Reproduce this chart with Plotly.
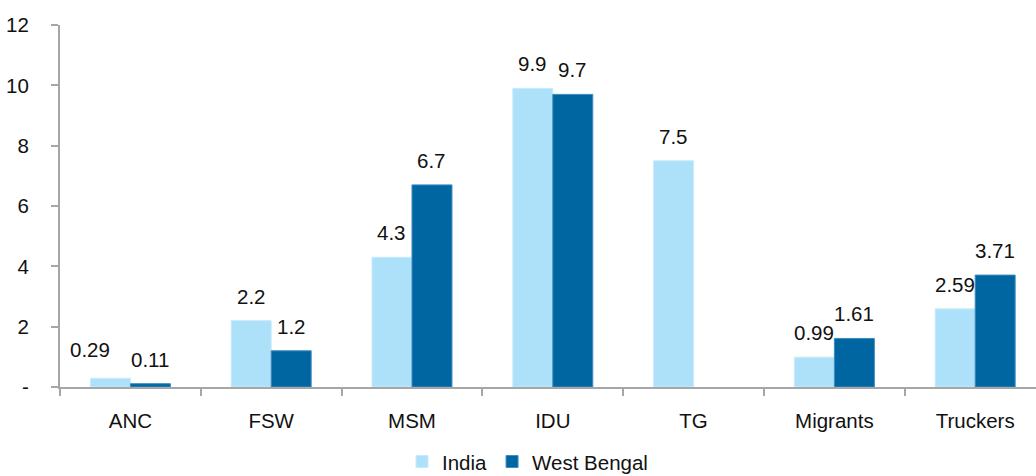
import plotly.graph_objects as go

categories = ["ANC", "FSW", "MSM", "IDU", "TG", "Migrants", "Truckers"]
india = [0.29, 2.2, 4.3, 9.9, 7.5, 0.99, 2.59]
west_bengal = [0.11, 1.2, 6.7, 9.7, None, 1.61, 3.71]
india_labels = ["0.29", "2.2", "4.3", "9.9", "7.5", "0.99", "2.59"]
wb_labels = ["0.11", "1.2", "6.7", "9.7", None, "1.61", "3.71"]
y_ticks = [0, 2, 4, 6, 8, 10, 12]
y_tick_text = ["-", "2", "4", "6", "8", "10", "12"]

LIGHT = "#ADE0F9"
DARK = "#0066A1"
AXIS = "#A6A6A6"
FONT = "Liberation Sans"
FS = 20.5

# the small ANC label is nudged left so it clears its neighbour
label_nudge = {("India", "ANC"): (-20, 4)}

fig = go.Figure()
fig.add_trace(go.Bar(name="India", x=categories, y=india, marker_color=LIGHT,
                     marker_line=dict(color="#C8EBFB", width=1)))
fig.add_trace(go.Bar(name="West Bengal", x=categories, y=west_bengal, marker_color=DARK,
                     marker_line=dict(color="#3D8CC0", width=1)))


def add_labels(series, values, labels, base_shift):
    for cat, v, t in zip(categories, values, labels):
        if v is None:
            continue
        dx, dy = label_nudge.get((series, cat), (0, 0))
        fig.add_annotation(x=cat, y=v, text=t, xshift=base_shift + dx, yshift=11 + dy,
                           yanchor="bottom", showarrow=False,
                           font=dict(size=FS, color="#111", family=FONT))


add_labels("India", india, india_labels, -20)
add_labels("West Bengal", west_bengal, wb_labels, 20)

fig.update_layout(
    width=1036, height=476,
    margin=dict(l=60, r=0, t=25, b=89, autoexpand=False),
    paper_bgcolor="white", plot_bgcolor="white",
    barmode="group", bargap=0.432, bargroupgap=0,
    font=dict(family=FONT, size=FS, color="#111"),
    showlegend=True,
    legend=dict(orientation="h", x=0.479, xanchor="center",
                yref="container", y=0.03, yanchor="middle",
                font=dict(size=FS), itemwidth=30, traceorder="normal"),
)
fig.update_xaxes(
    type="category", range=[-0.5, 6.432], automargin=False,
    showline=True, linecolor=AXIS, linewidth=2,
    ticks="outside", tickson="boundaries", ticklen=7, tickcolor=AXIS, tickwidth=2,
    showgrid=False, tickfont=dict(size=FS), ticklabelstandoff=14,
)
fig.update_yaxes(
    range=[0, 12], tickvals=y_ticks, ticktext=y_tick_text, automargin=False,
    showline=True, linecolor=AXIS, linewidth=2,
    ticks="outside", ticklen=7, tickcolor=AXIS, tickwidth=2,
    showgrid=False, zeroline=False, tickfont=dict(size=FS), ticklabelstandoff=18,
)

fig.write_html("out.html")
